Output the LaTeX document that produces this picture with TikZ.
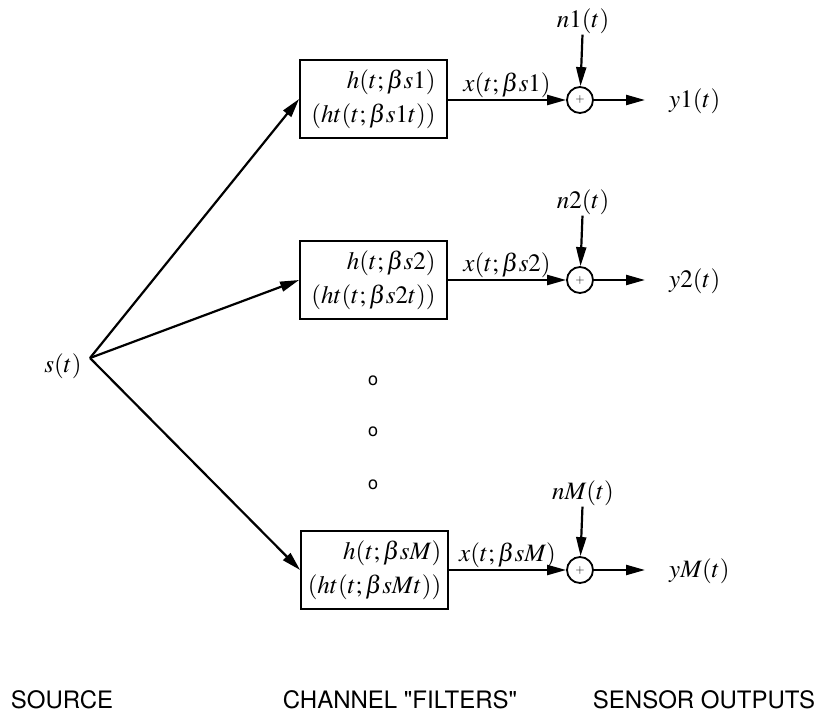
\documentclass[tikz,border=0pt]{standalone}
\usepackage{amsmath}
\usepackage{mathptmx}
\usepackage{fontspec}
\setmainfont{Liberation Serif}
\setsansfont{TeX Gyre Heros}
\usepackage{tikz}
\usetikzlibrary{arrows.meta}
\tikzset{%
    chan/.style={draw,line width=1.8pt,minimum width=147pt,minimum height=78pt,inner sep=2pt,align=right,font=\fontsize{25}{34}\selectfont},
    adder/.style={draw,circle,line width=1.8pt,minimum size=26pt,inner sep=0pt,font=\fontsize{12}{12}\selectfont},
    sig/.style={inner sep=1pt,font=\fontsize{25}{27}\selectfont},
    coltitle/.style={inner sep=0pt,font=\sffamily\fontsize{24}{28}\selectfont},
    arr/.style={line width=2.2pt,-{Triangle[length=19pt,width=10pt]}}
}

\begin{document}
\begin{tikzpicture}[x=1pt,y=-1pt]
        \useasboundingbox (0,0) rectangle (826,717);

        % source
        \node[sig] (sl) at (63,366){$s(t)$};
        \coordinate (s) at (90,358);

        \node[chan] (h1) at (373.5,99){$h(t;\beta s1)$\hspace{6pt}\\$(ht(t;\beta s1t))$};
        \node[chan] (h2) at (373.5,280){$h(t;\beta s2)$\hspace{6pt}\\$(ht(t;\beta s2t))$};
        \node[chan] (hM) at (374.5,570){$h(t;\beta sM)$\hspace{3pt}\\$(ht(t;\beta sMt))$};

        \node[adder] (a1) at (580,100){$\boldsymbol{+}$};
        \node[adder] (a2) at (580,280){$\boldsymbol{+}$};
        \node[adder] (aM) at (580,570){$\boldsymbol{+}$};

        \node[sig] (n1) at (583,21){$n1(t)$};
        \node[sig] (n2) at (583,202){$n2(t)$};
        \node[sig] (nM) at (583,493){$nM(t)$};

        \node[sig,anchor=west] (y1) at (668,101){$y1(t)$};
        \node[sig,anchor=west] (y2) at (668,281){$y2(t)$};
        \node[sig,anchor=west] (yM) at (668,571){$yM(t)$};
        \coordinate (e1) at (645,100);
        \coordinate (e2) at (645,280);
        \coordinate (eM) at (645,570);

        % \node at (373,380){o}; ...
        \node[sig] (d1) at (373,381){\fontsize{18}{18}\selectfont\sffamily o};
        \node[sig] (d2) at (373,432){\fontsize{18}{18}\selectfont\sffamily o};
        \node[sig] (d3) at (373,485){\fontsize{18}{18}\selectfont\sffamily o};

        \draw[arr] (s) -- (h1.west);
        \draw[arr] (s) -- (h2.west);
        \draw[arr] (s) -- (hM.west);
        \draw[arr] (h1.east |- a1) -- node[sig,above]{$x(t;\beta s1)$} (a1);
        \draw[arr] (h2.east |- a2) -- node[sig,above]{$x(t;\beta s2)$} (a2);
        \draw[arr] (hM.east |- aM) -- node[sig,above]{$x(t;\beta sM)$} (aM);
        \draw[arr] (n1) -- (a1);
        \draw[arr] (n2) -- (a2);
        \draw[arr] (nM) -- (aM);
        \draw[arr] (a1) -- (e1);
        \draw[arr] (a2) -- (e2);
        \draw[arr] (aM) -- (eM);

        \node[coltitle] (c1) at (62,700){SOURCE};
        \node[coltitle] (c2) at (400,700){CHANNEL \textquotedbl FILTERS\textquotedbl};
        \node[coltitle] (c3) at (704,700){SENSOR OUTPUTS};
    \end{tikzpicture}
\end{document}
